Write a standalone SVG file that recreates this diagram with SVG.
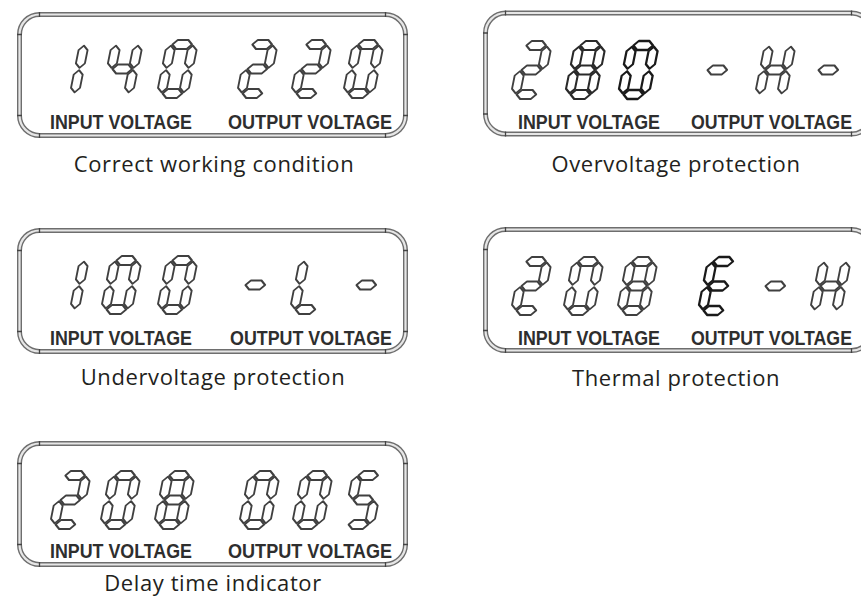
<svg xmlns="http://www.w3.org/2000/svg" xmlns:xlink="http://www.w3.org/1999/xlink" width="861" height="606" viewBox="0 0 861 606">
<style>
.fo{fill:none;stroke:#6e6e6e;stroke-width:5}
.fi{fill:none;stroke:#e6e6e6;stroke-width:2.2}
.d{fill:#fff;stroke:#404040;stroke-width:1.9;stroke-linejoin:round}
.d.b1{stroke:#2a2a2a;stroke-width:2.1}
.d.b2{stroke:#1a1a1a;stroke-width:2.3}
.lbl{font-family:"Liberation Sans",Arial,sans-serif;font-weight:bold;font-size:20px;fill:#2e2e2e}
.cap{font-family:"Open Sans","Noto Sans",sans-serif;font-size:22px;fill:#231f20;text-anchor:middle;letter-spacing:0.6px}
</style>
<defs>
<path id="fp" d="M20,0 H366 A20,20 0 0 1 386,20 V101 A20,20 0 0 1 366,121 H20 A20,20 0 0 1 0,101 V20 A20,20 0 0 1 20,0 Z"/>
<g id="frame">
<use xlink:href="#fp" href="#fp" class="fo"/>
<use xlink:href="#fp" href="#fp" class="fi"/>
<path d="M20,-2.5 V2.5 M366,-2.5 V2.5 M383.5,20 H388.5 M383.5,101 H388.5 M366,118.5 V123.5 M20,118.5 V123.5 M-2.5,101 H2.5 M-2.5,20 H2.5" fill="none" stroke="#444" stroke-width="1.3"/>
</g>
<polygon id="sa" points="5.7,-53.5 10.2,-58 20.8,-58 25.3,-53.5 20.8,-49 10.2,-49"/>
<polygon id="sb" points="26.5,-52.3 31,-47.8 31,-34.7 26.5,-30.2 22,-34.7 22,-47.8"/>
<polygon id="sc" points="26.5,-27.8 31,-23.3 31,-10.2 26.5,-5.7 22,-10.2 22,-23.3"/>
<polygon id="sd" points="5.7,-4.5 10.2,-9 20.8,-9 25.3,-4.5 20.8,0 10.2,0"/>
<polygon id="se" points="4.5,-27.8 9,-23.3 9,-10.2 4.5,-5.7 0,-10.2 0,-23.3"/>
<polygon id="sf" points="4.5,-52.3 9,-47.8 9,-34.7 4.5,-30.2 0,-34.7 0,-47.8"/>
<polygon id="sg" points="5.7,-29 10.2,-33.5 20.8,-33.5 25.3,-29 20.8,-24.5 10.2,-24.5"/>
<g id="d0"><use href="#sa"/><use href="#sb"/><use href="#sc"/><use href="#sd"/><use href="#se"/><use href="#sf"/></g>
<g id="d1"><use href="#sb"/><use href="#sc"/></g>
<g id="d2"><use href="#sa"/><use href="#sb"/><use href="#sg"/><use href="#se"/><use href="#sd"/></g>
<g id="d4"><use href="#sf"/><use href="#sg"/><use href="#sb"/><use href="#sc"/></g>
<g id="d5"><use href="#sa"/><use href="#sf"/><use href="#sg"/><use href="#sc"/><use href="#sd"/></g>
<g id="d8"><use href="#sa"/><use href="#sb"/><use href="#sc"/><use href="#sd"/><use href="#se"/><use href="#sf"/><use href="#sg"/></g>
<g id="dH"><use href="#sf"/><use href="#sb"/><use href="#sg"/><use href="#se"/><use href="#sc"/></g>
<g id="dL"><use href="#sf"/><use href="#se"/><use href="#sd"/></g>
<g id="dE"><use href="#sa"/><use href="#sf"/><use href="#sg"/><use href="#se"/><use href="#sd"/></g>
<g id="dm"><use href="#sg"/></g>
</defs>
<rect width="861" height="606" fill="#fff"/>

<g id="panel-correct">
<use href="#frame" transform="translate(19.5,14.5)"/>
<use href="#d1" class="d" transform="translate(47,98) skewX(-11.3)"/>
<use href="#d4" class="d" transform="translate(101,98) skewX(-11.3)"/>
<use href="#d0" class="d" transform="translate(156,98) skewX(-11.3)"/>
<use href="#d2" class="d" transform="translate(236,98) skewX(-11.3)"/>
<use href="#d2" class="d" transform="translate(290,98) skewX(-11.3)"/>
<use href="#d0" class="d" transform="translate(342,98) skewX(-11.3)"/>
<text class="lbl" x="50" y="129" textLength="142" lengthAdjust="spacingAndGlyphs">INPUT VOLTAGE</text>
<text class="lbl" x="228" y="129" textLength="164" lengthAdjust="spacingAndGlyphs">OUTPUT VOLTAGE</text>
<text class="cap" x="214" y="172">Correct working condition</text>
</g>

<g id="panel-overvoltage">
<use href="#frame" transform="translate(485.5,13)"/>
<use href="#d2" class="d" transform="translate(510,99) skewX(-11.3)"/>
<use href="#d8" class="d b1" transform="translate(564,99) skewX(-11.3)"/>
<use href="#d0" class="d b2" transform="translate(617,99) skewX(-11.3)"/>
<use href="#dm" class="d" transform="translate(696,99) skewX(-11.3)"/>
<use href="#dH" class="d" transform="translate(754,99) skewX(-11.3)"/>
<use href="#dm" class="d" transform="translate(807,99) skewX(-11.3)"/>
<text class="lbl" x="518" y="129" textLength="142" lengthAdjust="spacingAndGlyphs">INPUT VOLTAGE</text>
<text class="lbl" x="691" y="129" textLength="161" lengthAdjust="spacingAndGlyphs">OUTPUT VOLTAGE</text>
<text class="cap" x="676" y="172">Overvoltage protection</text>
</g>

<g id="panel-undervoltage">
<use href="#frame" transform="translate(19.5,230.5)"/>
<use href="#d1" class="d" transform="translate(47,314) skewX(-11.3)"/>
<use href="#d0" class="d" transform="translate(100,314) skewX(-11.3)"/>
<use href="#d0" class="d" transform="translate(156,314) skewX(-11.3)"/>
<use href="#dm" class="d" transform="translate(234,314) skewX(-11.3)"/>
<use href="#dL" class="d" transform="translate(289,314) skewX(-11.3)"/>
<use href="#dm" class="d" transform="translate(345,314) skewX(-11.3)"/>
<text class="lbl" x="50" y="345" textLength="142" lengthAdjust="spacingAndGlyphs">INPUT VOLTAGE</text>
<text class="lbl" x="230" y="345" textLength="162" lengthAdjust="spacingAndGlyphs">OUTPUT VOLTAGE</text>
<text class="cap" x="213" y="385">Undervoltage protection</text>
</g>

<g id="panel-thermal">
<use href="#frame" transform="translate(485.5,229.5)"/>
<use href="#d2" class="d" transform="translate(510,315) skewX(-11.3)"/>
<use href="#d0" class="d" transform="translate(562,315) skewX(-11.3)"/>
<use href="#d8" class="d" transform="translate(616,315) skewX(-11.3)"/>
<use href="#dE" class="d b2" transform="translate(697,315) skewX(-11.3)"/>
<use href="#dm" class="d" transform="translate(754,315) skewX(-11.3)"/>
<use href="#dH" class="d" transform="translate(809,315) skewX(-11.3)"/>
<text class="lbl" x="518" y="345" textLength="142" lengthAdjust="spacingAndGlyphs">INPUT VOLTAGE</text>
<text class="lbl" x="691" y="345" textLength="161" lengthAdjust="spacingAndGlyphs">OUTPUT VOLTAGE</text>
<text class="cap" x="676" y="386">Thermal protection</text>
</g>

<g id="panel-delay">
<use href="#frame" transform="translate(19.5,443.5)"/>
<use href="#d2" class="d" transform="translate(49,529) skewX(-11.3)"/>
<use href="#d0" class="d" transform="translate(99,529) skewX(-11.3)"/>
<use href="#d8" class="d" transform="translate(153,529) skewX(-11.3)"/>
<use href="#d0" class="d" transform="translate(238,529) skewX(-11.3)"/>
<use href="#d0" class="d" transform="translate(291,529) skewX(-11.3)"/>
<use href="#d5" class="d" transform="translate(342,529) skewX(-11.3)"/>
<text class="lbl" x="50" y="558" textLength="142" lengthAdjust="spacingAndGlyphs">INPUT VOLTAGE</text>
<text class="lbl" x="228" y="558" textLength="164" lengthAdjust="spacingAndGlyphs">OUTPUT VOLTAGE</text>
<text class="cap" x="213" y="591">Delay time indicator</text>
</g>
</svg>
